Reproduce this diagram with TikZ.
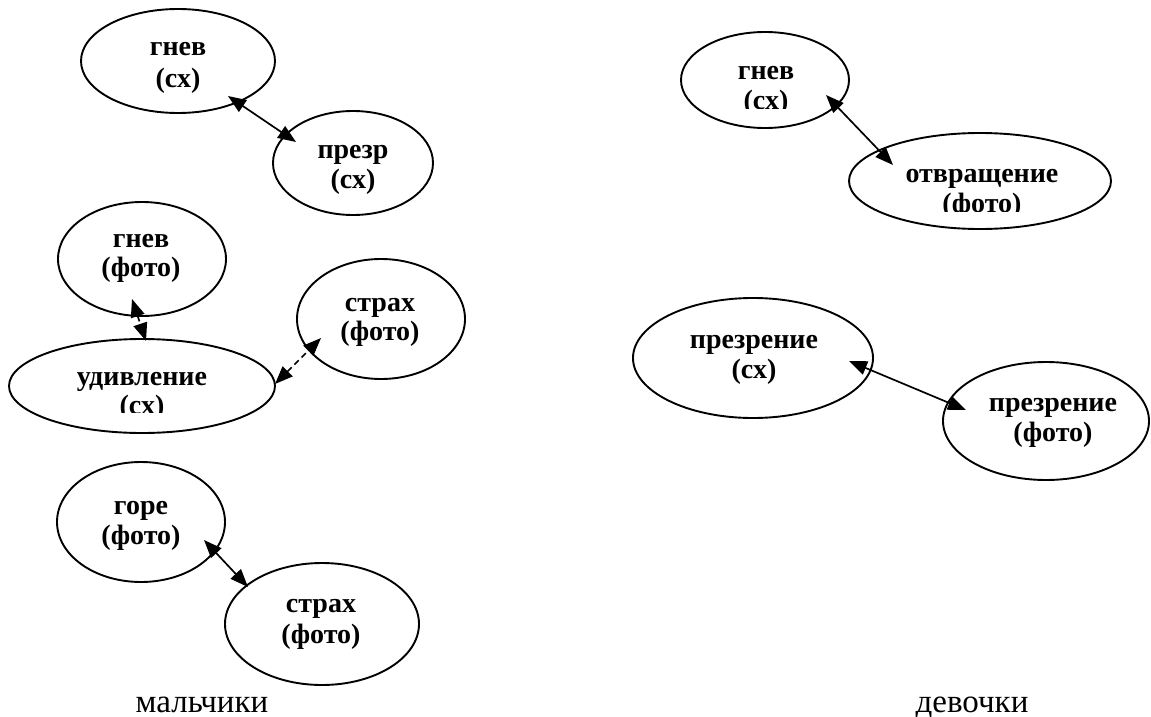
\documentclass[tikz,border=0pt]{standalone}
\usepackage{fontspec}
\setmainfont{Liberation Serif}
\usetikzlibrary{arrows.meta,shapes.geometric}
\begin{document}
\begin{tikzpicture}[x=1pt,y=-1pt,
  emo/.style={draw, ellipse, line width=1.9pt, inner sep=0pt},
  lab/.style={font=\bfseries\fontsize{28}{30}\selectfont, anchor=base, inner sep=0pt},
  side/.style={font=\fontsize{33}{36}\selectfont, anchor=base, inner sep=0pt},
  link/.style={line width=1.7pt, {Triangle[length=18pt,width=14pt]}-{Triangle[length=18pt,width=14pt]}},
  dlink/.style={link, dash pattern=on 6pt off 4pt}]
\useasboundingbox (0,0) rectangle (1151,717);

% boys
\node[emo, minimum width=194pt, minimum height=104pt] (e1) at (178,61) {};
\node[lab] (t1a) at (178,56) {гнев};
\node[lab] (t1b) at (178,87) {(сх)};

\node[emo, minimum width=160pt, minimum height=104pt] (e2) at (353,163) {};
\node[lab] (t2a) at (353,158) {презр};
\node[lab] (t2b) at (353,188) {(сх)};

\node[emo, minimum width=168pt, minimum height=114pt] (e3) at (142,259) {};
\node[lab] (t3a) at (141,247) {гнев};
\node[lab] (t3b) at (141,276) {(фото)};

\node[emo, minimum width=168pt, minimum height=120pt] (e4) at (381,319) {};
\node[lab] (t4a) at (380,311) {страх};
\node[lab] (t4b) at (380,340) {(фото)};

\node[emo, minimum width=266pt, minimum height=94pt] (e5) at (142,386) {};
\node[lab] (t5a) at (142,385) {удивление};
\begin{scope}
  \clip (0,0) rectangle (1151,412);
  \node[lab] (t5b) at (142,414) {(сх)};
\end{scope}

\node[emo, minimum width=168pt, minimum height=120pt] (e6) at (141,522) {};
\node[lab] (t6a) at (141,514) {горе};
\node[lab] (t6b) at (141,544) {(фото)};

\node[emo, minimum width=194pt, minimum height=122pt] (e7) at (322,624) {};
\node[lab] (t7a) at (321,612) {страх};
\node[lab] (t7b) at (321,643) {(фото)};

% girls
\node[emo, minimum width=168pt, minimum height=96pt] (e8) at (765,80) {};
\node[lab] (t8a) at (766,80) {гнев};
\begin{scope}
  \clip (0,0) rectangle (1151,108);
  \node[lab] (t8b) at (766,110) {(сх)};
\end{scope}

\node[emo, minimum width=262pt, minimum height=96pt] (e9) at (980,181) {};
\node[lab] (t9a) at (982,182) {отвращение};
\begin{scope}
  \clip (0,0) rectangle (1151,211);
  \node[lab] (t9b) at (982,212) {(фото)};
\end{scope}

\node[emo, minimum width=240pt, minimum height=120pt] (e10) at (753,358) {};
\node[lab] (t10a) at (754,348) {презрение};
\node[lab] (t10b) at (754,378) {(сх)};

\node[emo, minimum width=206pt, minimum height=118pt] (e11) at (1046,421) {};
\node[lab] (t11a) at (1053,411) {презрение};
\node[lab] (t11b) at (1053,441) {(фото)};

% connector end points
\coordinate (e1tip) at (228,96);   \coordinate (e2tip) at (296,142);
\coordinate (e3tip) at (132,299);  \coordinate (e5tipa) at (146,341);
\coordinate (e5tipb) at (275,384); \coordinate (e4tip) at (321,338);
\coordinate (e6tip) at (204,540);  \coordinate (e7tip) at (248,587);
\coordinate (e8tip) at (826,95);   \coordinate (e9tip) at (893,165);
\coordinate (e10tip) at (849,361); \coordinate (e11tip) at (966,410);

\draw[link] (e1tip) -- (e2tip);
\draw[dlink] (e3tip) -- (e5tipa);
\draw[dlink] (e5tipb) -- (e4tip);
\draw[link] (e6tip) -- (e7tip);
\draw[link] (e8tip) -- (e9tip);
\draw[link] (e10tip) -- (e11tip);

\node[side] (boys) at (202,712) {мальчики};
\node[side] (girls) at (972,712) {девочки};
\end{tikzpicture}
\end{document}
